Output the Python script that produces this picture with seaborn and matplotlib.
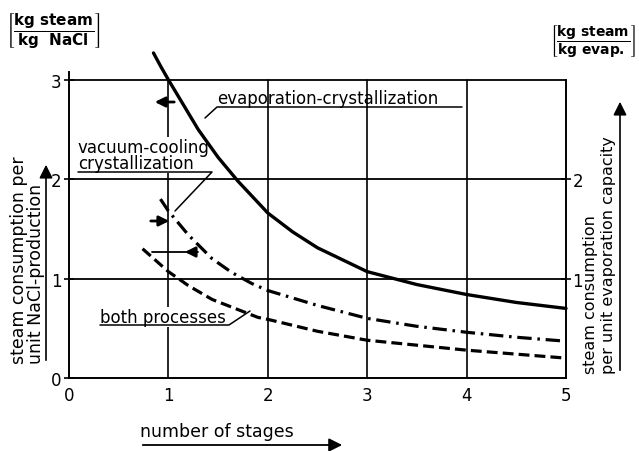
import matplotlib
matplotlib.use('Agg')
import matplotlib.pyplot as plt
import numpy as np
import pandas as pd
import seaborn as sns
from matplotlib.lines import Line2D

# values
evap_x = [0.85, 0.92, 1.0, 1.15, 1.3, 1.5, 1.7, 2.0, 2.25, 2.5, 3.0, 3.5, 4.0, 4.5, 5.0]
evap_y = [3.27, 3.14, 3.0, 2.75, 2.5, 2.22, 1.98, 1.66, 1.47, 1.31, 1.07, 0.94, 0.84, 0.76, 0.70]

vac_x = [0.92, 1.0, 1.2, 1.44, 1.64, 1.84, 2.0, 2.5, 3.0, 3.5, 4.0, 4.5, 5.0]
vac_y = [1.80, 1.68, 1.44, 1.20, 1.06, 0.95, 0.88, 0.73, 0.60, 0.52, 0.46, 0.41, 0.37]

both_x = [0.74, 1.0, 1.2, 1.44, 1.9, 2.0, 2.5, 3.0, 3.5, 4.0, 4.5, 5.0]
both_y = [1.30, 1.07, 0.93, 0.79, 0.61, 0.59, 0.47, 0.38, 0.33, 0.28, 0.24, 0.20]

x_ticks = [0, 1, 2, 3, 4, 5]
y_ticks = [0, 1, 2, 3]
right_ticks = [1, 2]

sns.set_style('white')
plt.rcParams['font.family'] = ['DejaVu Sans']
plt.rcParams['mathtext.fontset'] = 'dejavusans'
for k in ['text.color', 'axes.labelcolor', 'xtick.color', 'ytick.color', 'axes.edgecolor']:
    plt.rcParams[k] = 'black'

W, H = 639, 452
fig = plt.figure(figsize=(W / 100, H / 100), dpi=100)


def px(x, y):
    return x / W, 1 - y / H


ax = fig.add_axes([69 / W, 1 - 379 / H, (566 - 69) / W, 3.35 * 99.4 / H])
ax.set_xlim(0, 5)
ax.set_ylim(0, 3.35)

# grid lines (stop at y = 3)
for g in [1, 2, 3]:
    ax.plot([0, 5], [g, g], color='black', lw=1.3, zorder=1)
for g in [1, 2, 3, 4]:
    ax.plot([g, g], [0, 3], color='black', lw=1.2, zorder=1)

curves = pd.DataFrame({
    'x': evap_x + vac_x + both_x,
    'y': evap_y + vac_y + both_y,
    'process': ['evap'] * len(evap_x) + ['vac'] * len(vac_x) + ['both'] * len(both_x),
})
sns.lineplot(data=curves[curves.process == 'evap'], x='x', y='y', color='black',
             lw=2.4, ax=ax, zorder=3, clip_on=False, estimator=None, sort=False)
sns.lineplot(data=curves[curves.process == 'vac'], x='x', y='y', color='black',
             lw=2.3, ax=ax, zorder=3, estimator=None, sort=False)
ax.lines[-1].set_dashes((4.5, 1.8, 0.8, 1.8))
sns.lineplot(data=curves[curves.process == 'both'], x='x', y='y', color='black',
             lw=2.3, ax=ax, zorder=3, estimator=None, sort=False)
ax.lines[-1].set_dashes((3.4, 1.6))

ax.spines['top'].set_visible(False)
for s in ['left', 'right', 'bottom']:
    ax.spines[s].set_linewidth(1.4)
ax.spines['left'].set_bounds(0, 3.08)
ax.spines['right'].set_bounds(0, 3.0)

ax.set_xticks(x_ticks)
ax.set_yticks(y_ticks)
ax.tick_params(direction='inout', length=7, width=1.2, labelsize=12, pad=2)
ax.set_xlabel('')
ax.set_ylabel('')

tw = ax.twinx()
tw.set_ylim(ax.get_ylim())
tw.set_yticks(right_ticks)
tw.tick_params(direction='inout', length=7, width=1.2, labelsize=12, pad=1)
for s in tw.spines.values():
    s.set_visible(False)


def line(pts, lw=1.1):
    xs = [p[0] / W for p in pts]
    ys = [1 - p[1] / H for p in pts]
    fig.add_artist(Line2D(xs, ys, color='black', lw=lw))


def arrow(x0, y0, x1, y1, lw=1.3, hw=0.3, hl=0.6):
    fig.add_artist(matplotlib.patches.FancyArrowPatch(
        px(x0, y0), px(x1, y1), transform=fig.transFigure,
        arrowstyle=f'-|>,head_length={hl},head_width={hw}', color='black', lw=lw,
        mutation_scale=10))


def label(x, y, s, **kw):
    # drawn in the axes so that white boxes sit above grid lines but below curves
    ax.text(*px(x, y), s, transform=fig.transFigure, clip_on=False, zorder=2, **kw)


fs = 12
# evaporation-crystallization label
label(217, 99, 'evaporation-crystallization', fontsize=fs, ha='left', va='center')
line([(205, 119), (217, 108), (462, 108)])

# vacuum-cooling label
label(78, 156, 'vacuum-cooling\ncrystallization', fontsize=fs, ha='left',
      va='center', linespacing=0.9,
      bbox=dict(facecolor='white', edgecolor='none', pad=0.5))
line([(78, 173), (212, 173), (175, 212)])

# both processes label
label(100, 318, 'both processes', fontsize=fs, ha='left', va='center',
      bbox=dict(facecolor='white', edgecolor='none', pad=0.5))
line([(100, 326), (229, 326), (250, 312)])

# small arrows marking one stage
arrow(177, 103, 152, 103, lw=2.0)
arrow(148, 222, 172, 222, lw=2.0)
line([(152, 253), (198, 253)], lw=1.3)
arrow(198, 253, 182, 253, lw=2.0)

# axis titles
fig.text(*px(19, 364), 'steam consumption per', rotation=90, fontsize=12.5,
         ha='center', va='bottom')
fig.text(*px(36, 364), 'unit NaCl-production', rotation=90, fontsize=12.5,
         ha='center', va='bottom')
arrow(46, 364, 46, 163, lw=1.2, hw=0.4, hl=0.8)

fig.text(*px(591, 374), 'steam consumption', rotation=90, fontsize=11.5,
         ha='center', va='bottom')
fig.text(*px(608, 374), 'per unit evaporation capacity', rotation=90, fontsize=11.5,
         ha='center', va='bottom')
arrow(620, 374, 620, 100, lw=1.2, hw=0.4, hl=0.8)

fig.text(*px(140, 432), 'number of stages', fontsize=12.5, ha='left', va='center')
arrow(140, 446, 345, 446, lw=1.3, hw=0.4, hl=0.8)

# units
fig.text(*px(6, 30), r'$\left[\dfrac{\mathbf{kg\ steam}}{\mathbf{kg\ \ NaCl}}\right]$',
         fontsize=11, ha='left', va='center')
fig.text(*px(636, 42), r'$\left[\dfrac{\mathbf{kg\ steam}}{\mathbf{kg\ evap.}}\right]$',
         fontsize=10, ha='right', va='center')

fig.savefig('out.png', dpi=100)
